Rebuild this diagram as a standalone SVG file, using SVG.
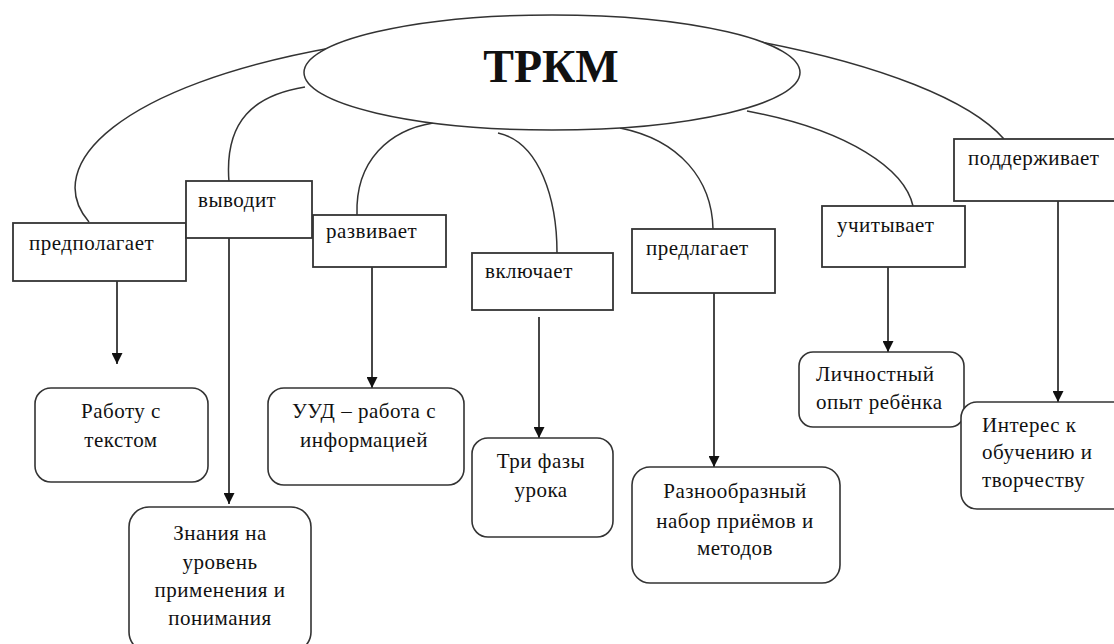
<svg xmlns="http://www.w3.org/2000/svg" width="1114" height="644" viewBox="0 0 1114 644">
<style>
.box{fill:#fff;stroke:#333;stroke-width:1.8}
.rbox{fill:#fff;stroke:#333;stroke-width:1.6}
.lbl{font-family:"Liberation Serif","Times New Roman",serif;font-size:21px;letter-spacing:0.5px;fill:#111}
.mid{text-anchor:middle}
.con{fill:none;stroke:#333;stroke-width:1.5}
.arr{fill:none;stroke:#333;stroke-width:1.8;marker-end:url(#ah)}
</style>
<defs>
<marker id="ah" viewBox="0 0 10 10" refX="10" refY="5" markerWidth="11" markerHeight="11" markerUnits="userSpaceOnUse" orient="auto">
<path d="M0,0 L10,5 L0,10 z" fill="#111"/>
</marker>
</defs>
<rect width="1114" height="644" fill="#fff"/>
<g id="connectors">
<path class="con" d="M89 222 C40 165 120 85 336 47"/>
<path class="con" d="M229 182 C224 120 255 95 305 87"/>
<path class="con" d="M357 215 C355 160 390 130 433 123"/>
<path class="con" d="M498 133 C540 142 557 200 557 253"/>
<path class="con" d="M620 128 C680 140 712 180 713 229"/>
<path class="con" d="M747 111 C850 130 905 170 913 206"/>
<path class="con" d="M761 42 C880 65 970 100 1004 139"/>
<line class="arr" x1="117" y1="281" x2="117" y2="364"/>
<line class="arr" x1="229" y1="238" x2="229" y2="504"/>
<line class="arr" x1="372" y1="267" x2="372" y2="388"/>
<line class="arr" x1="539" y1="317" x2="539" y2="438"/>
<line class="arr" x1="714" y1="293" x2="714" y2="467"/>
<line class="arr" x1="888" y1="267" x2="888" y2="352"/>
<line class="arr" x1="1058" y1="190" x2="1058" y2="402"/>
</g>
<g id="trkm">
<ellipse cx="552" cy="72.5" rx="248" ry="57.5" fill="#fff" stroke="#333" stroke-width="1.5"/>
<text x="551" y="82" class="mid" font-family="'Liberation Serif','Times New Roman',serif" font-size="46" font-weight="bold" fill="#111">ТРКМ</text>
</g>
<g id="predpolagaet">
<rect class="box" x="13" y="223" width="173" height="58"/>
<text class="lbl" x="29" y="250">предполагает</text>
</g>
<g id="vyvodit">
<rect class="box" x="186" y="181" width="126" height="57"/>
<text class="lbl" x="198" y="207">выводит</text>
</g>
<g id="razvivaet">
<rect class="box" x="313" y="215" width="133" height="52"/>
<text class="lbl" x="326" y="238">развивает</text>
</g>
<g id="vklyuchaet">
<rect class="box" x="472" y="253" width="141" height="57"/>
<text class="lbl" x="485" y="278">включает</text>
</g>
<g id="predlagaet">
<rect class="box" x="632" y="229" width="143" height="64"/>
<text class="lbl" x="646" y="255">предлагает</text>
</g>
<g id="uchityvaet">
<rect class="box" x="822" y="206" width="143" height="61"/>
<text class="lbl" x="837" y="232">учитывает</text>
</g>
<g id="podderzhivaet">
<rect class="box" x="954" y="139" width="165" height="62"/>
<text class="lbl" x="968" y="165">поддерживает</text>
</g>
<g id="rabotu">
<rect class="rbox" x="35" y="388" width="173" height="94" rx="16"/>
<text class="lbl mid" x="121" y="418">Работу с</text>
<text class="lbl mid" x="121" y="447">текстом</text>
</g>
<g id="znaniya">
<rect class="rbox" x="129" y="507" width="182" height="145" rx="20"/>
<text class="lbl mid" x="220" y="540">Знания на</text>
<text class="lbl mid" x="220" y="569">уровень</text>
<text class="lbl mid" x="220" y="597">применения и</text>
<text class="lbl mid" x="220" y="625">понимания</text>
</g>
<g id="uud">
<rect class="rbox" x="268" y="388" width="196" height="97" rx="16"/>
<text class="lbl mid" x="364" y="418">УУД – работа с</text>
<text class="lbl mid" x="364" y="447">информацией</text>
</g>
<g id="tri">
<rect class="rbox" x="472" y="438" width="141" height="99" rx="16"/>
<text class="lbl mid" x="541" y="468">Три фазы</text>
<text class="lbl mid" x="541" y="497">урока</text>
</g>
<g id="raznoobr">
<rect class="rbox" x="632" y="467" width="208" height="116" rx="18"/>
<text class="lbl mid" x="735" y="498">Разнообразный</text>
<text class="lbl mid" x="735" y="528">набор приёмов и</text>
<text class="lbl mid" x="735" y="555">методов</text>
</g>
<g id="lichnost">
<rect class="rbox" x="799" y="352" width="165" height="75" rx="14"/>
<text class="lbl" x="816" y="381">Личностный</text>
<text class="lbl" x="816" y="409">опыт ребёнка</text>
</g>
<g id="interes">
<rect class="rbox" x="961" y="402" width="170" height="107" rx="16"/>
<text class="lbl" x="982" y="432">Интерес к</text>
<text class="lbl" x="982" y="459">обучению и</text>
<text class="lbl" x="982" y="487">творчеству</text>
</g>
</svg>
